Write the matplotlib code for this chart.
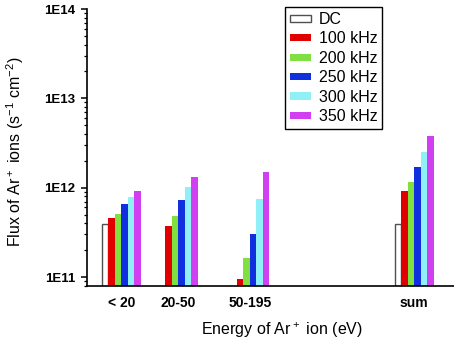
import numpy as np
import matplotlib
matplotlib.use("Agg")
import matplotlib.pyplot as plt

plt.rcParams['font.family'] = ['Liberation Sans', 'DejaVu Sans']
plt.rcParams['mathtext.default'] = 'regular'

# data (flux in s^-1 cm^-2)
categories = ['< 20', '20-50', '50-195', 'sum']
series = ['DC', '100 kHz', '200 kHz', '250 kHz', '300 kHz', '350 kHz']
dc = [3.92e11, np.nan, np.nan, 3.92e11]
f100 = [4.6e11, 3.76e11, 9.6e10, 9.25e11]
f200 = [5.1e11, 4.8e11, 1.62e11, 1.16e12]
f250 = [6.5e11, 7.2e11, 3.03e11, 1.69e12]
f300 = [7.9e11, 1.02e12, 7.4e11, 2.53e12]
f350 = [9.2e11, 1.33e12, 1.51e12, 3.79e12]
values = [dc, f100, f200, f250, f300, f350]

group_pos = np.array([0, 1, 2.26, 5.14])
colors = ['white', '#e00000', '#80e040', '#1030e0', '#90f0f8', '#d040f0']
edges = ['#505050', 'none', 'none', 'none', 'none', 'none']
width = 0.114

fig = plt.figure(figsize=(4.54, 3.43), dpi=100)
ax = fig.add_axes([87/454, 1 - 286/343, 367/454, 277/343])

base = 7.93e10
for i, (name, vals) in enumerate(zip(series, values)):
    x = group_pos + (i - 2.5) * width
    v = np.array(vals, dtype=float)
    ax.bar(x, v - base, width=width, bottom=base, color=colors[i],
           edgecolor=edges[i], linewidth=1.0 if i == 0 else 0, label=name)

ax.set_yscale('log')
ax.set_ylim(base, 1e14)
ax.set_xlim(-0.6, 5.84)
ax.set_yticks([1e11, 1e12, 1e13, 1e14])
ax.set_yticklabels(['1E11', '1E12', '1E13', '1E14'], fontweight='bold')
ax.set_xticks(group_pos)
ax.set_xticklabels(categories, fontweight='bold')

for s in ['top', 'right']:
    ax.spines[s].set_visible(False)
for s in ['left', 'bottom']:
    ax.spines[s].set_linewidth(1.2)

ax.tick_params(axis='y', which='major', direction='out', length=4, width=1.1,
               pad=4.5, labelsize=9.5)
ax.tick_params(axis='y', which='minor', direction='out', length=2.5, width=0.9)
ax.tick_params(axis='x', length=0, pad=7, labelsize=10)

ax.set_xlabel('Energy of Ar$^+$ ion (eV)', fontsize=11.5)
ax.xaxis.set_label_coords(0.531, -0.125)
ax.set_ylabel('Flux of Ar$^+$ ions (s$^{-1}$ cm$^{-2}$)', fontsize=11.5)
ax.yaxis.set_label_coords(-0.165, 0.485)

leg = ax.legend(loc='upper right', bbox_to_anchor=(0.804, 1.007),
                borderaxespad=0, fontsize=11.5, handlelength=1.3,
                handleheight=0.3, labelspacing=0.28, handletextpad=0.5,
                borderpad=0.3, fancybox=False, framealpha=1)
leg.get_frame().set_edgecolor('black')
leg.get_frame().set_linewidth(1.0)

fig.savefig('out.png', dpi=100)
